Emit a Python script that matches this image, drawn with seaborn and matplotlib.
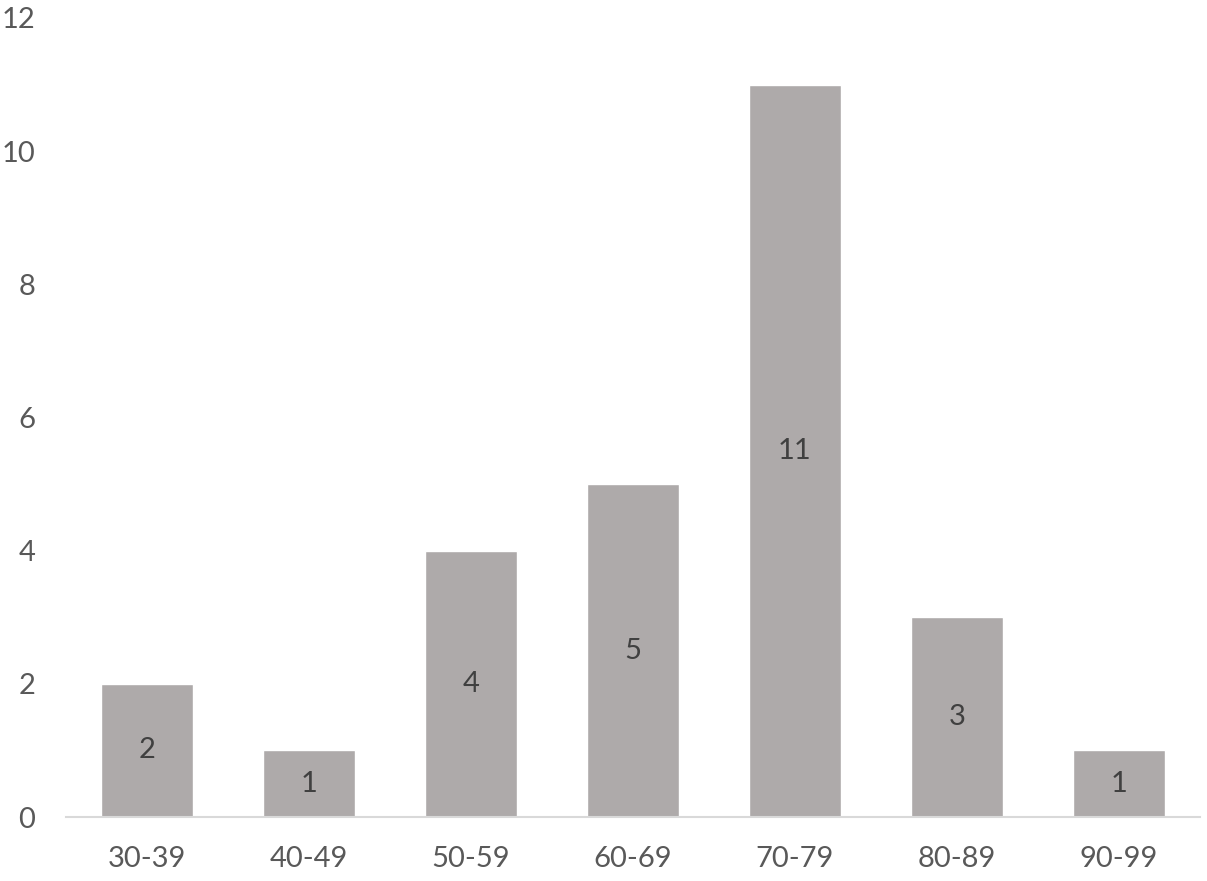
import matplotlib
matplotlib.use('Agg')
import matplotlib.pyplot as plt
import pandas as pd
import seaborn as sns

# Data
age_groups = ['30-39', '40-49', '50-59', '60-69', '70-79', '80-89', '90-99']
counts = [2, 1, 4, 5, 11, 3, 1]
y_ticks = [0, 2, 4, 6, 8, 10, 12]

df = pd.DataFrame({'group': age_groups, 'count': counts})

sns.set_style('white')
plt.rcParams['font.family'] = ['Lato', 'DejaVu Sans']

fig = plt.figure(figsize=(12.07, 8.81), dpi=100)
ax = fig.add_axes([0.0547, 0.0726, 0.9393, 0.907])

sns.barplot(data=df, x='group', y='count', color='#AEAAAA', saturation=1,
            width=0.57, ax=ax)

ax.bar_label(ax.containers[0], label_type='center', fontsize=21, color='#404040')

ax.set_ylim(0, 12)
ax.set_xlim(-0.5, 6.5)
ax.set_yticks(y_ticks)
ax.set_xlabel('')
ax.set_ylabel('')
ax.tick_params(axis='both', length=0, labelsize=21, labelcolor='#595959')
ax.tick_params(axis='y', pad=22)
ax.tick_params(axis='x', pad=21)

for side in ['top', 'right', 'left']:
    ax.spines[side].set_visible(False)
ax.spines['bottom'].set_color('#D9D9D9')
ax.spines['bottom'].set_linewidth(1.5)

fig.savefig('out.png', dpi=100)
